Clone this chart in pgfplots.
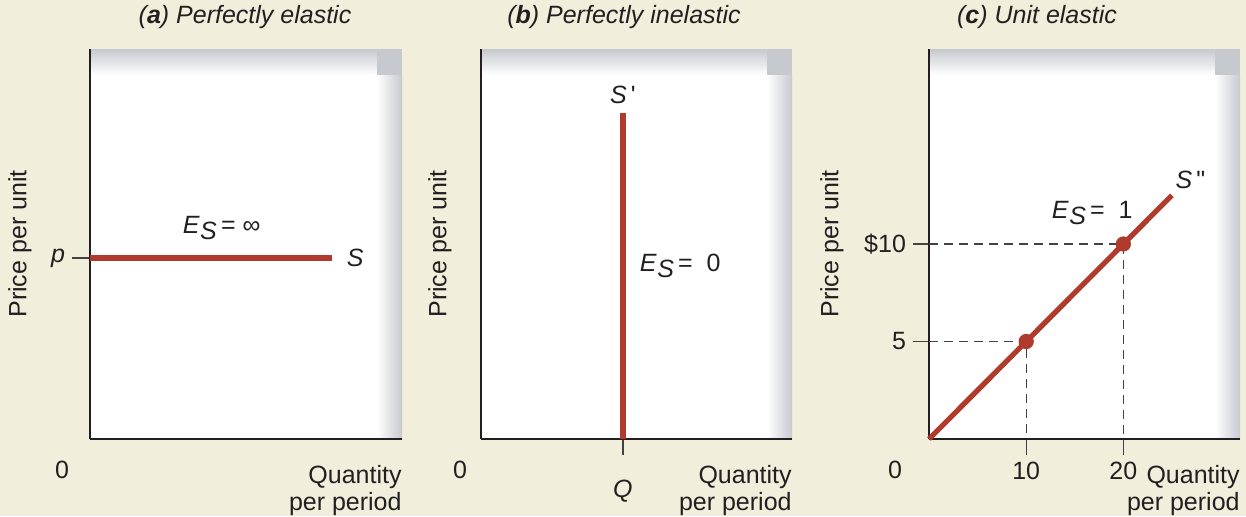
\documentclass[border=0pt]{standalone}
\usepackage{pgfplots}
\pgfplotsset{compat=1.18}
\usepackage{fontspec}
\setmainfont{Liberation Sans}
\definecolor{bg}{RGB}{242,238,220}
\definecolor{ered}{RGB}{176,58,44}
\definecolor{txt}{RGB}{35,31,32}
\definecolor{gband}{RGB}{198,201,206}
\newcommand{\Es}{\textit{E}\kern0.02em\raisebox{-0.45ex}{\textit{S}}}
\newcommand{\lab}{\fontsize{12.5}{13.5}\selectfont}
% decorative panel background: #1 left, #2 band start (right-12.5), #3 right (pt)
\newcommand{\panelbg}[3]{%
  \fill[white] (#1pt,38.5pt) rectangle (#3pt,233.5pt);
  \shade[left color=white, right color=gband] (#2pt,38.5pt) rectangle (#3pt,220.5pt);
  \shade[top color=gband, bottom color=white] (#1pt,220.5pt) rectangle (#2pt,233.5pt);
  \fill[gband] (#2pt,220.5pt) rectangle (#3pt,233.5pt);}
\tikzset{lbl/.style={font=\lab, text=txt}}
\pgfplotsset{
  panel/.style={
    scale only axis, width=155.5pt, height=195pt,
    xmin=0, xmax=32, ymin=0, ymax=20,
    axis x line*=bottom, axis y line*=left,
    axis line style={txt, line width=1.2pt, -},
    tick style={txt!85, line width=0.7pt},
    tick align=outside,
    major tick length=8pt,
    xtick=\empty, ytick=\empty,
    clip=false,
    ticklabel style={font=\lab, text=txt},
  },
}
\begin{document}
\begin{tikzpicture}
\fill[bg] (0,0) rectangle (623pt,258pt);
\panelbg{45}{188.5}{201}
\panelbg{240.5}{383.5}{396}
\panelbg{464.5}{607.5}{620}

% ---------- (a) ----------
\begin{axis}[panel, at={(45pt,38.5pt)}, width=156pt,
  ytick={9.28}, yticklabels={\textit{p}}, major tick length=9pt]
  \addplot[ered, line width=2.6pt] coordinates {(0,9.28) (24.8,9.28)};
  \node[lbl] at (axis cs:13.5,10.8) {\Es\,= ∞};
  \node[lbl, anchor=west, inner sep=0pt] at (axis cs:26.3,9.28) {\textit{S}};
  \node[lbl] at ([xshift=-14pt,yshift=-15.5pt]rel axis cs:0,0) {0};
  \node[lbl, anchor=north east, align=right, inner sep=0pt] at ([yshift=-13pt]rel axis cs:1,0) {Quantity\\per period};
\end{axis}

% ---------- (b) ----------
\begin{axis}[panel, at={(240.5pt,38.5pt)},
  xtick={14.6}, xticklabels={\textit{Q}}, xticklabel style={yshift=-9pt}]
  \addplot[ered, line width=2.6pt] coordinates {(14.6,0) (14.6,16.7)};
  \node[lbl] at (axis cs:14.6,17.64) {\textit{S}\,\textquotesingle};
  \node[lbl] at (axis cs:20.5,8.9) {\Es\,= \ 0};
  \node[lbl] at ([xshift=-10.5pt,yshift=-15.5pt]rel axis cs:0,0) {0};
  \node[lbl, anchor=north east, align=right, inner sep=0pt] at ([yshift=-13pt]rel axis cs:1,0) {Quantity\\per period};
\end{axis}

% ---------- (c) ----------
\begin{axis}[panel, at={(464.5pt,38.5pt)},
  xtick={10,20}, xticklabels={10,20}, ytick={5,10}, yticklabels={5,\$10}]
  \addplot[txt!85, line width=0.7pt, dash pattern=on 4.5pt off 3pt] coordinates {(0,5) (10,5) (10,0)};
  \addplot[txt!85, line width=0.7pt, dash pattern=on 4.5pt off 3pt] coordinates {(0,10) (20,10) (20,0)};
  \addplot[ered, line width=2.6pt] coordinates {(0,0) (25,12.5)};
  \addplot[ered, only marks, mark=*, mark size=3.6pt] coordinates {(10,5) (20,10)};
  \node[lbl] at (axis cs:16.8,11.6) {\Es\,= \ 1};
  \node[lbl] at (axis cs:26.9,13.3) {\textit{S}\,\textquotedbl};
  \node[lbl] at ([xshift=-17pt,yshift=-15.5pt]rel axis cs:0,0) {0};
  \node[lbl, anchor=north east, align=right, inner sep=0pt] at ([yshift=-13pt]rel axis cs:1,0) {Quantity\\per period};
\end{axis}

% titles and y labels
\node[lbl] at (122.5pt,249.5pt) {\textit{(\textbf{a}) Perfectly elastic}};
\node[lbl] at (312pt,249.5pt) {\textit{(\textbf{b}) Perfectly inelastic}};
\node[lbl] at (518.5pt,249.5pt) {\textit{(\textbf{c}) Unit elastic}};
\node[lbl, rotate=90] at (10pt,136pt) {Price per unit};
\node[lbl, rotate=90] at (220pt,136pt) {Price per unit};
\node[lbl, rotate=90] at (416pt,136pt) {Price per unit};
\pgfresetboundingbox
\path (0,0) rectangle (623pt,258pt);
\end{tikzpicture}
\end{document}
